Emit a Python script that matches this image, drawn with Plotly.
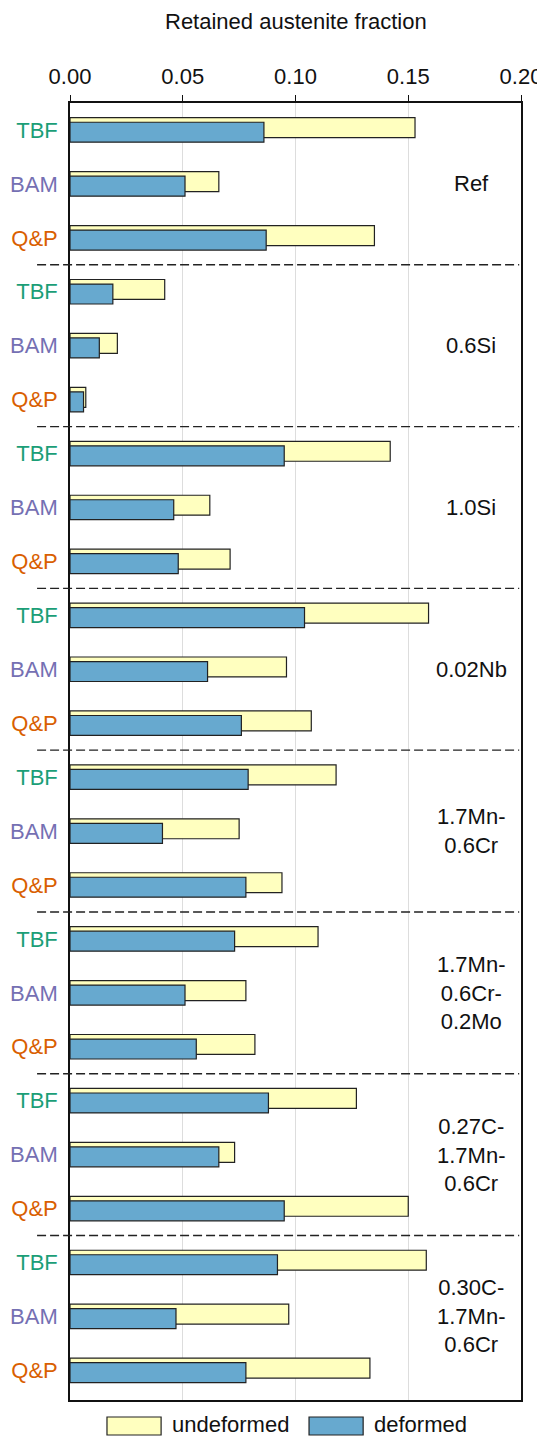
import plotly.graph_objects as go

# steel variants (one block of three routes each) and the processing routes
groups = ["Ref", "0.6Si", "1.0Si", "0.02Nb", "1.7Mn-<br>0.6Cr",
          "1.7Mn-<br>0.6Cr-<br>0.2Mo", "0.27C-<br>1.7Mn-<br>0.6Cr",
          "0.30C-<br>1.7Mn-<br>0.6Cr"]
routes = ["TBF", "BAM", "Q&P"]
route_colors = {"TBF": "#1b9e77", "BAM": "#7570b3", "Q&P": "#d95f02"}

# retained austenite fraction, order: TBF, BAM, Q&P for each group
undeformed = [0.153, 0.066, 0.135,
              0.042, 0.021, 0.007,
              0.142, 0.062, 0.071,
              0.159, 0.096, 0.107,
              0.118, 0.075, 0.094,
              0.110, 0.078, 0.082,
              0.127, 0.073, 0.150,
              0.158, 0.097, 0.133]
deformed = [0.086, 0.051, 0.087,
            0.019, 0.013, 0.006,
            0.095, 0.046, 0.048,
            0.104, 0.061, 0.076,
            0.079, 0.041, 0.078,
            0.073, 0.051, 0.056,
            0.088, 0.066, 0.095,
            0.092, 0.047, 0.078]

x_ticks = [0.00, 0.05, 0.10, 0.15, 0.20]

FONT = "Arial, Liberation Sans, sans-serif"
FS = 22
PLOT_H = 1297  # height of the plot area in px, used for paper offsets
rows = list(range(len(groups) * len(routes)))
row_labels = [routes[i % 3] for i in rows]
tick_text = ['<span style="color:%s">%s</span>' % (route_colors[r], r.replace("&", "&amp;"))
             for r in row_labels]

fig = go.Figure()
fig.add_trace(go.Bar(
    x=undeformed, y=rows, orientation="h", name="undeformed",
    width=0.37, offset=-0.227,
    marker=dict(color="#ffffbf", line=dict(color="#222222", width=1.2)),
))
fig.add_trace(go.Bar(
    x=deformed, y=rows, orientation="h", name="deformed",
    width=0.37, offset=-0.143,
    marker=dict(color="#67a9cf", line=dict(color="#222222", width=1.2)),
))

# dashed separators between groups
for g in range(1, len(groups)):
    yy = g * 3 - 0.5
    fig.add_shape(type="line", xref="paper", yref="y", x0=-0.073, x1=0.996,
                  y0=yy, y1=yy, line=dict(color="#222222", width=1.4, dash="9px,4px"))

# group labels on the right
for g, name in enumerate(groups):
    fig.add_annotation(x=0.178, y=g * 3 + 1, xref="x", yref="y", text=name,
                       showarrow=False, align="center", xanchor="center",
                       yanchor="middle", font=dict(size=FS, color="#111111"))

# title above the top axis
fig.add_annotation(x=0.5, y=1 + 82 / PLOT_H, xref="paper", yref="paper",
                   text="Retained austenite fraction", showarrow=False,
                   xanchor="center", yanchor="middle",
                   font=dict(size=FS, color="#111111"))

# hand-made legend below the plot
legend_items = [("undeformed", "#ffffbf", 0.082), ("deformed", "#67a9cf", 0.530)]
for label, col, x0 in legend_items:
    fig.add_shape(type="rect", xref="paper", yref="paper", x0=x0, x1=x0 + 0.12,
                  y0=-35 / PLOT_H, y1=-17 / PLOT_H, fillcolor=col,
                  line=dict(color="#222222", width=1.2))
    fig.add_annotation(x=x0 + 0.14, y=-24 / PLOT_H, xref="paper", yref="paper",
                       text=label, showarrow=False, xanchor="left",
                       yanchor="middle", font=dict(size=FS, color="#111111"))

# page body has an 8px margin, so the figure is sized to fit the window
fig.update_layout(
    width=537, height=1428,
    margin=dict(l=62, r=24, t=95, b=36),
    paper_bgcolor="white", plot_bgcolor="white",
    barmode="overlay", showlegend=False,
    font=dict(family=FONT, size=FS, color="#111111"),
)
fig.update_xaxes(
    side="top", range=[0, 0.2], tickvals=x_ticks,
    ticktext=["%.2f" % v for v in x_ticks],
    ticks="outside", ticklen=6, tickcolor="#111111", tickwidth=1.3,
    showgrid=True, gridcolor="#dddddd", gridwidth=1.3,
    showline=True, linecolor="#111111", linewidth=1.6, mirror=True,
    zeroline=False, ticklabelstandoff=2, automargin=False,
)
fig.update_yaxes(
    range=[23.55, -0.5], tickvals=rows, ticktext=tick_text,
    ticks="", showgrid=False, zeroline=False,
    showline=True, linecolor="#111111", linewidth=1.6, mirror=True,
    ticklabelstandoff=6, automargin=False,
)

fig.write_html("out.html")
